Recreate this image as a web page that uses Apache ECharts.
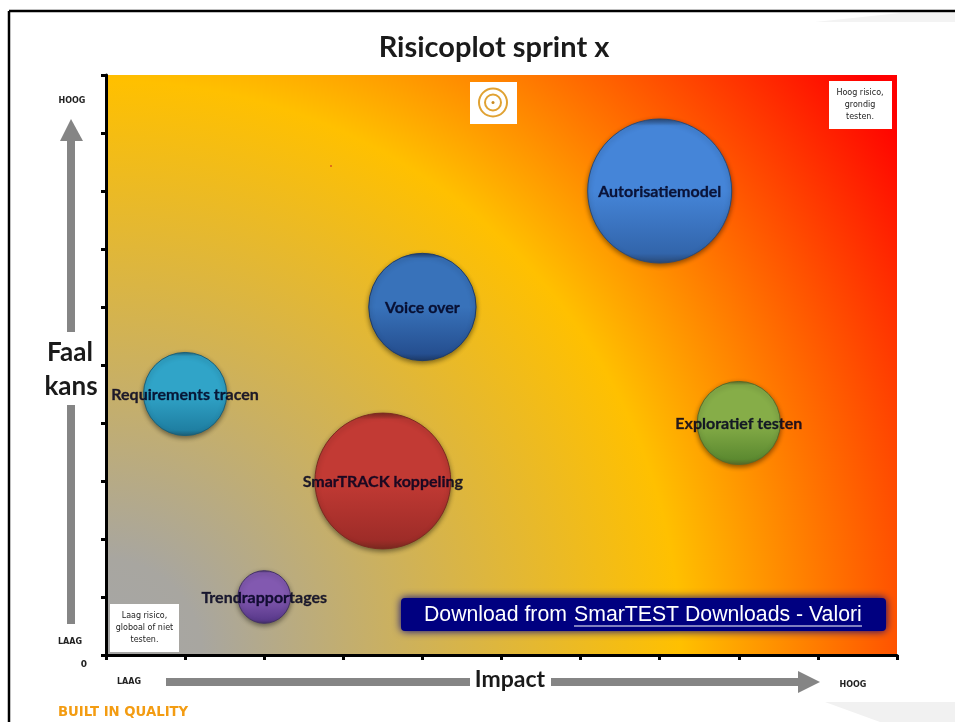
<!DOCTYPE html>
<html>
<head>
<meta charset="utf-8">
<title>Risicoplot sprint x</title>
<script src="https://cdn.jsdelivr.net/npm/echarts@6/dist/echarts.min.js"></script>
<style>
  html, body { margin: 0; padding: 0; background: #fff; }
  #chart { width: 955px; height: 722px; }
</style>
</head>
<body>
<div id="chart"></div>
<script>
// both axes run 0-10
const names = ["Autorisatiemodel", "Voice over", "Requirements tracen", "Exploratief testen", "SmarTRACK koppeling", "Trendrapportages"];
const impact = [7, 4, 1, 8, 3.5, 2];
const faalKans = [8, 6, 4.5, 4, 3, 1];
const bubbleSize = [9, 5, 3, 3, 8, 1.2];
const topColors = ["#4585d8", "#3872ba", "#30a4c8", "#86ad48", "#c23a34", "#8259b0"];
const bottomColors = ["#3265ab", "#254f90", "#1f7fa2", "#5c8a30", "#9e2c28", "#5a3a8c"];
const edgeColors = ["#2a4a78", "#1e3c6a", "#1c6078", "#5a6a28", "#7c2a20", "#443068"];

const chart = echarts.init(document.getElementById("chart"));

const bubbles = names.map((name, i) => ({
  name: name,
  value: [impact[i], faalKans[i], bubbleSize[i]],
  itemStyle: {
    opacity: 1,
    color: new echarts.graphic.LinearGradient(0, 0, 0, 1, [
      { offset: 0, color: edgeColors[i] },
      { offset: 0.05, color: topColors[i] },
      { offset: 0.5, color: topColors[i] },
      { offset: 0.93, color: bottomColors[i] },
      { offset: 1, color: edgeColors[i] },
    ]),
    borderColor: edgeColors[i],
    borderWidth: 1,
    shadowColor: "rgba(0,0,0,0.45)",
    shadowBlur: 5,
    shadowOffsetY: 2,
  },
}));

function txt(x, y, text, size, weight, color, family, align) {
  return {
    type: "text",
    z: 100,
    style: {
      x: x,
      y: y,
      text: text,
      fontSize: size,
      fontWeight: weight || "normal",
      fontFamily: family || "Lato",
      fill: color || "#111",
      align: align || "center",
      verticalAlign: "middle",
      lineHeight: size + 4,
    },
  };
}

function shape(type, shapeDef, style) {
  return { type: type, z: 90, shape: shapeDef, style: style };
}

const grey = { fill: "#858585" };
const target = { fill: "none", stroke: "#e0a233", lineWidth: 2 };

const option = {
  animation: false,
  backgroundColor: "#fff",
  grid: {
    show: true,
    left: 106,
    top: 75,
    width: 791,
    height: 580,
    borderWidth: 0,
    backgroundColor: new echarts.graphic.RadialGradient(0, 1, 1.65, [
      { offset: 0, color: "#a6a6a6" },
      { offset: 0.1, color: "#a8a6a0" },
      { offset: 0.6, color: "#ffc000" },
      { offset: 1, color: "#ff0000" },
    ]),
  },
  xAxis: {
    type: "value",
    min: 0,
    max: 10,
    interval: 1,
    splitLine: { show: false },
    axisLine: { lineStyle: { color: "#000", width: 3 } },
    axisTick: { show: true, length: 5, lineStyle: { color: "#000", width: 3 } },
    axisLabel: { show: false },
  },
  yAxis: {
    type: "value",
    min: 0,
    max: 10,
    interval: 1,
    splitLine: { show: false },
    axisLine: { lineStyle: { color: "#000", width: 3 } },
    axisTick: { show: true, length: 5, lineStyle: { color: "#000", width: 3 } },
    axisLabel: {
      margin: 19,
      fontSize: 9,
      fontWeight: "bold",
      fontFamily: "DejaVu Sans",
      color: "#222",
      verticalAlign: "top",
      padding: [5, 0, 0, 0],
      formatter: (v) => (v === 0 ? "0" : ""),
    },
  },
  series: [
    {
      type: "scatter",
      data: bubbles,
      symbolSize: (val) => 48 * Math.sqrt(val[2]),
      label: {
        show: true,
        position: "inside",
        offset: [0, 1],
        formatter: "{b}",
        fontFamily: "Lato",
        fontWeight: "bold",
        fontSize: 16,
        color: "rgba(0,0,30,0.85)",
        textBorderColor: "rgba(0,0,30,0.6)",
        textBorderWidth: 0.4,
      },
    },
  ],
  graphic: [
    // slide frame
    shape("polygon", { points: [[815, 22], [900, 13], [955, 13], [955, 22]] }, { fill: "#f3f3f3" }),
    shape("polygon", { points: [[825, 702], [955, 702], [955, 722], [880, 722]] }, { fill: "#f1f1f1" }),
    shape("line", { x1: 9, y1: 11, x2: 955, y2: 11 }, { stroke: "#000", lineWidth: 2.5 }),
    shape("line", { x1: 9, y1: 11, x2: 9, y2: 722 }, { stroke: "#000", lineWidth: 2.5 }),

    txt(494, 48, "Risicoplot sprint x", 29, "bold", "#1a1a1a"),
    txt(70, 353, "Faal", 26, "bold", "#1a1a1a"),
    txt(71, 387, "kans", 26, "bold", "#1a1a1a"),
    txt(510, 680, "Impact", 23, "bold", "#1a1a1a"),
    txt(72, 101, "HOOG", 8, "bold", "#222", "DejaVu Sans"),
    txt(70, 642, "LAAG", 8, "bold", "#222", "DejaVu Sans"),
    txt(129, 682, "LAAG", 8, "bold", "#222", "DejaVu Sans"),
    txt(853, 685, "HOOG", 8, "bold", "#222", "DejaVu Sans"),
    txt(58, 713, "BUILT IN QUALITY", 13.25, "bold", "#f39c12", "DejaVu Sans", "left"),

    // arrows
    shape("rect", { x: 67, y: 141, width: 8, height: 191 }, grey),
    shape("polygon", { points: [[71, 119], [83, 141], [60, 141]] }, grey),
    shape("rect", { x: 67, y: 405, width: 8, height: 219 }, grey),
    shape("rect", { x: 166, y: 678, width: 304, height: 8 }, grey),
    shape("rect", { x: 551, y: 678, width: 247, height: 8 }, grey),
    shape("polygon", { points: [[798, 671], [820, 682], [798, 693]] }, grey),

    // note boxes and logo
    shape("rect", { x: 470, y: 82, width: 47, height: 42 }, { fill: "#fff" }),
    shape("circle", { cx: 493, cy: 102.5, r: 14 }, target),
    shape("circle", { cx: 493, cy: 102.5, r: 8 }, target),
    shape("circle", { cx: 493, cy: 102.5, r: 1.5 }, { fill: "#c98a20" }),
    shape("circle", { cx: 331, cy: 166, r: 1 }, { fill: "#d9541e" }),
    shape("rect", { x: 829, y: 81, width: 63, height: 48 }, { fill: "#fff" }),
    txt(860, 105, "Hoog risico,\ngrondig\ntesten.", 8, "normal", "#222", "DejaVu Sans"),
    shape("rect", { x: 110, y: 604, width: 69, height: 48 }, { fill: "#fff" }),
    txt(144.5, 628, "Laag risico,\ngloboal of niet\ntesten.", 8, "normal", "#222", "DejaVu Sans"),

    // download banner
    shape("rect", { x: 401, y: 598, width: 485, height: 33, r: 4 }, { fill: "#000080", shadowColor: "#000080", shadowBlur: 9 }),
    txt(424, 615, "Download from", 21.25, "normal", "#fff", "Liberation Sans", "left"),
    txt(574, 615, "SmarTEST Downloads - Valori", 21.25, "normal", "#fff", "Liberation Sans", "left"),
    { type: "line", z: 100, shape: { x1: 574, y1: 626, x2: 862, y2: 626 }, style: { stroke: "#fff", lineWidth: 1 } },
  ],
};

chart.setOption(option);
</script>
</body>
</html>
